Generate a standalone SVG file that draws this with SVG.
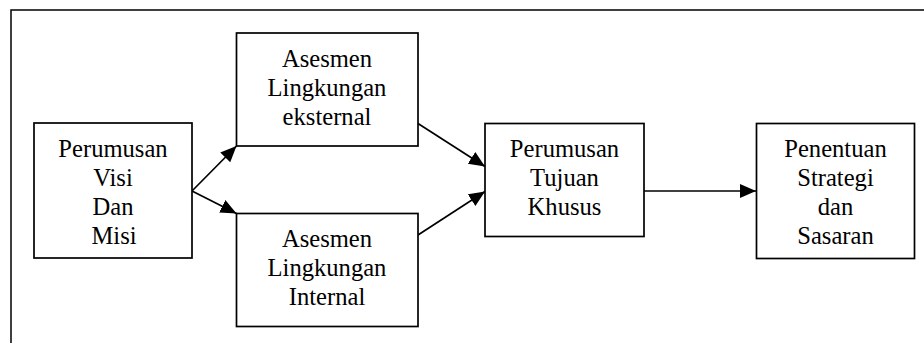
<svg xmlns="http://www.w3.org/2000/svg" width="924" height="343" viewBox="0 0 924 343">
  <style>
    .box { fill: #ffffff; stroke: #000000; stroke-width: 1.7; }
    .frame { fill: none; stroke: #000000; stroke-width: 1.5; }
    .lbl { font-family: "Liberation Serif", "Times New Roman", serif; font-size: 24.6px; fill: #000000; text-anchor: middle; }
    .edge { fill: none; stroke: #000000; stroke-width: 1.7; }
  </style>
  <defs>
    <marker id="arrow" markerUnits="userSpaceOnUse" markerWidth="17" markerHeight="15" refX="16" refY="7" orient="auto">
      <path d="M0,0 L16,7 L0,14 Z" fill="#000000"/>
    </marker>
  </defs>
  <rect width="924" height="343" fill="#ffffff"/>
  <!-- outer frame, open to the right and bottom -->
  <rect class="frame" x="11" y="10" width="1000" height="400"/>

  <g id="connectors">
    <line class="edge" x1="192" y1="191" x2="236.5" y2="146" marker-end="url(#arrow)"/>
    <line class="edge" x1="192" y1="191" x2="236.5" y2="213.5" marker-end="url(#arrow)"/>
    <line class="edge" x1="418" y1="123.5" x2="485" y2="166.5" marker-end="url(#arrow)"/>
    <line class="edge" x1="418" y1="235" x2="485" y2="191.5" marker-end="url(#arrow)"/>
    <line class="edge" x1="644" y1="191" x2="756" y2="191" marker-end="url(#arrow)"/>
  </g>

  <g id="visi-misi">
    <rect class="box" x="34" y="123" width="158" height="135"/>
    <text class="lbl" x="113" y="156.5">Perumusan</text>
    <text class="lbl" x="113" y="185.5">Visi</text>
    <text class="lbl" x="113" y="214.5">Dan</text>
    <text class="lbl" x="114" y="243.5">Misi</text>
  </g>

  <g id="lingkungan-eksternal">
    <rect class="box" x="236.5" y="33" width="181.5" height="113"/>
    <text class="lbl" x="327" y="66.5">Asesmen</text>
    <text class="lbl" x="327" y="95.5">Lingkungan</text>
    <text class="lbl" x="327" y="124.5">eksternal</text>
  </g>

  <g id="lingkungan-internal">
    <rect class="box" x="236.5" y="213.5" width="181.5" height="113"/>
    <text class="lbl" x="327" y="247">Asesmen</text>
    <text class="lbl" x="327" y="276">Lingkungan</text>
    <text class="lbl" x="327" y="305">Internal</text>
  </g>

  <g id="tujuan-khusus">
    <rect class="box" x="485" y="123.5" width="159" height="113"/>
    <text class="lbl" x="564.5" y="157">Perumusan</text>
    <text class="lbl" x="564.5" y="186">Tujuan</text>
    <text class="lbl" x="564.5" y="214.5">Khusus</text>
  </g>

  <g id="strategi-sasaran">
    <rect class="box" x="756.5" y="123.5" width="158" height="135"/>
    <text class="lbl" x="835.5" y="157">Penentuan</text>
    <text class="lbl" x="835.5" y="186">Strategi</text>
    <text class="lbl" x="835.5" y="214.5">dan</text>
    <text class="lbl" x="835.5" y="243.5">Sasaran</text>
  </g>
</svg>
